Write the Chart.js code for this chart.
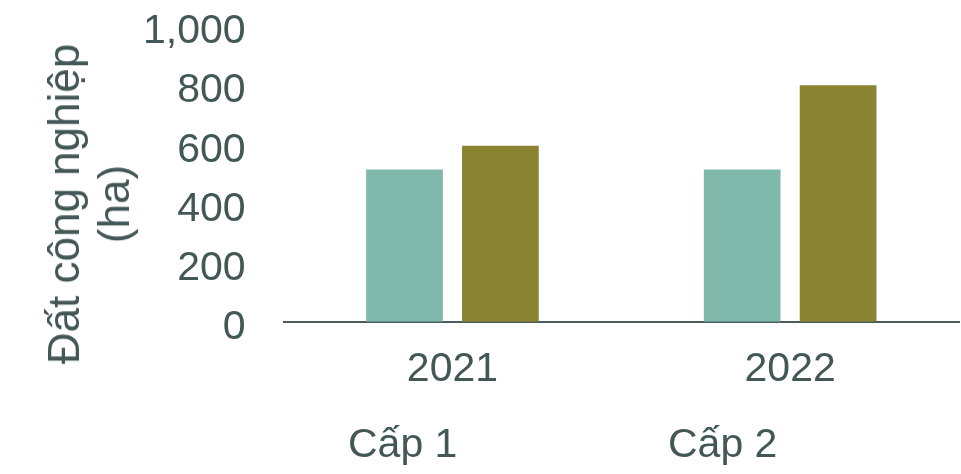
<!DOCTYPE html>
<html>
<head>
<meta charset="utf-8">
<script src="https://cdn.jsdelivr.net/npm/chart.js@4/dist/chart.umd.min.js"></script>
<style>
  html, body { margin: 0; padding: 0; background: #fff; }
  #wrap { position: relative; width: 961px; height: 474px; }
  #wrap canvas { position: absolute; left: 0; top: 0; }
  .txt {
    position: absolute;
    font-family: "Liberation Sans", Arial, sans-serif;
    font-size: 41px;
    line-height: 49px;
    color: #445757;
    white-space: nowrap;
  }
  #yTitle {
    left: 89px; top: 204px;
    font-size: 44px;
    line-height: 50px;
    text-align: center;
    transform: translate(-50%, -50%) rotate(-90deg);
  }
  .legendItem { top: 419px; }
</style>
</head>
<body>
<div id="wrap">
  <canvas id="chart" width="961" height="474"></canvas>
  <div id="yTitle" class="txt"></div>
  <div id="legend"></div>
</div>
<script>
const years = ["2021", "2022"];
const seriesNames = ["Cấp 1", "Cấp 2"];
const cap1 = [515, 515];
const cap2 = [595, 800];
const yTicks = [0, 200, 400, 600, 800, 1000];
const yTitleLines = ["Đất công nghiệp", "(ha)"];

const textColor = "#445757";
const barColors = ["#80b9ab", "#8a8432"];
const fontFamily = '"Liberation Sans", Arial, sans-serif';

// y title and legend are plain html text overlays
document.getElementById("yTitle").innerHTML = yTitleLines.join("<br>");
const legendEl = document.getElementById("legend");
const legendLeft = [348, 668];
seriesNames.forEach((name, i) => {
  const span = document.createElement("div");
  span.className = "txt legendItem";
  span.style.left = legendLeft[i] + "px";
  span.textContent = name;
  legendEl.appendChild(span);
});

const ctx = document.getElementById("chart").getContext("2d");

new Chart(ctx, {
  type: "bar",
  data: {
    labels: years,
    datasets: [
      { label: seriesNames[0], data: cap1, backgroundColor: barColors[0] },
      { label: seriesNames[1], data: cap2, backgroundColor: barColors[1] },
    ],
  },
  options: {
    responsive: false,
    animation: false,
    categoryPercentage: 0.568,
    barPercentage: 0.8,
    layout: {
      padding: { left: 105, right: 2, top: 2, bottom: 57 },
    },
    plugins: {
      legend: { display: false },
      tooltip: { enabled: false },
    },
    scales: {
      x: {
        grid: { display: false, drawTicks: false },
        border: { display: true, color: "#4b5b5b", width: 2 },
        ticks: {
          color: textColor,
          padding: 23,
          autoSkip: false,
          maxRotation: 0,
          font: { family: fontFamily, size: 41 },
        },
      },
      y: {
        min: 0,
        max: 1000,
        grid: { display: false, drawTicks: false },
        border: { display: false },
        afterBuildTicks: (scale) => {
          scale.ticks = yTicks.map((v) => ({ value: v }));
        },
        // tick padding is also added above the top label, keep only half a label there
        afterFit: (scale) => {
          scale.paddingTop = 26;
        },
        ticks: {
          color: textColor,
          padding: 38,
          labelOffset: 6,
          autoSkip: false,
          font: { family: fontFamily, size: 41 },
          callback: (value) => value.toLocaleString("en-US"),
        },
      },
    },
  },
});
</script>
</body>
</html>
